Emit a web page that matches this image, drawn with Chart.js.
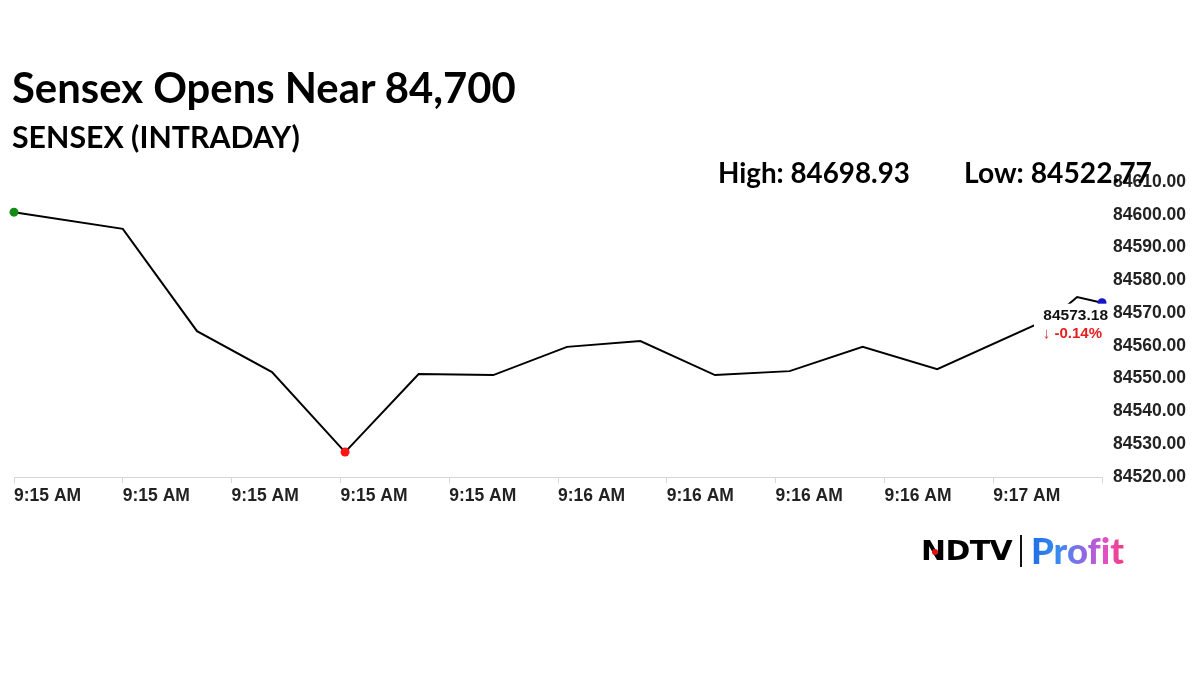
<!DOCTYPE html>
<html><head><meta charset="utf-8">
<script src="https://cdn.jsdelivr.net/npm/chart.js@4.4.1/dist/chart.umd.min.js"></script>
<style>
html,body{margin:0;padding:0;background:#fff;}
#wrap{position:relative;width:1200px;height:675px;overflow:hidden;background:#fff;}
#c{position:absolute;left:0;top:0;}
.t{position:absolute;white-space:nowrap;font-family:Lato,"Open Sans",sans-serif;font-weight:700;color:#000;line-height:1;margin:0;z-index:2;font-variant-ligatures:none;font-feature-settings:"liga" 0;}
.bl{display:inline-block;width:0;height:0;vertical-align:baseline;}
#ndtv{font-family:"DejaVu Sans",sans-serif;font-weight:700;transform-origin:0 0;letter-spacing:-0.5px;}
#profit{font-weight:900;background:linear-gradient(90deg,#1f6fe6 0%,#3b8cf0 30%,#9a63e6 60%,#e64fc0 82%,#ee3b7e 100%);-webkit-background-clip:text;background-clip:text;color:transparent;}
#bar{position:absolute;left:1020px;top:535px;width:2px;height:32px;background:#111;z-index:2;}
#dot{position:absolute;left:932px;top:549px;width:6px;height:6px;border-radius:50%;background:#e01010;z-index:3;}
</style></head><body>
<div id="wrap">
<canvas id="c" width="1200" height="675"></canvas>
<div class="t" id="title" data-x="12" data-b="103" data-w="504">Sensex Opens Near 84,700<span class="bl"></span></div>
<div class="t" id="sub" data-x="12" data-b="148" data-w="288">SENSEX (INTRADAY)<span class="bl"></span></div>
<div class="t" id="high" data-x="718" data-b="183" data-w="192">High: 84698.93<span class="bl"></span></div>
<div class="t" id="low" data-x="964" data-b="183" data-w="188">Low: 84522.77<span class="bl"></span></div>
<div class="t" id="ndtv" data-x="921" data-b="560" data-w="91" data-cap="19">NDTV<span class="bl"></span></div>
<div id="bar"></div>
<div id="dot"></div>
<div class="t" id="profit" data-x="1031" data-b="564" data-w="93">Profit<span class="bl"></span></div>
</div>
<script>
// ---- data ----
const times = [0, 14.0, 23.55, 33.2, 42.6, 52.07, 61.67, 71.16, 80.6, 90.2, 99.8, 109.2, 118.8, 133.9, 136.8, 140];
const values = [84600.8, 84595.7, 84564.5, 84552.0, 84527.6, 84551.4, 84551.1, 84559.7, 84561.5, 84551.1, 84552.3, 84559.7, 84552.9, 84569.1, 84574.9, 84573.18];
const tickLabels = ['9:15 AM','9:15 AM','9:15 AM','9:15 AM','9:15 AM','9:16 AM','9:16 AM','9:16 AM','9:16 AM','9:17 AM',''];
const yMin = 84520, yMax = 84610, yStep = 10;
const xMin = 0, xMax = 140, xStep = 14;
const lastValue = 84573.18;
const changePct = -0.14;

// ---- text placement ----
const wrap = document.getElementById('wrap');
function place(el){
  const x = +el.dataset.x, b = +el.dataset.b, w = +el.dataset.w;
  el.style.left = x + 'px'; el.style.top = '0px'; el.style.fontSize = '40px';
  let r = el.getBoundingClientRect();
  if (el.dataset.cap){
    const fs = (+el.dataset.cap) / 0.729;
    el.style.fontSize = fs + 'px';
    r = el.getBoundingClientRect();
    el.style.transform = 'scaleX(' + (w / r.width) + ')';
  } else {
    el.style.fontSize = (40 * w / r.width) + 'px';
  }
  const bl = el.querySelector('.bl').getBoundingClientRect().top - wrap.getBoundingClientRect().top;
  el.style.top = (b - bl) + 'px';
}
document.querySelectorAll('.t').forEach(place);

// ---- chart ----
const lowIdx = values.indexOf(Math.min(...values));
const lastIdx = values.length - 1;
const dotColor = i => i === 0 ? '#168a16' : (i === lowIdx ? '#ff1414' : (i === lastIdx ? '#1414c8' : 'rgba(0,0,0,0)'));
const tickFont = {family: '"Liberation Sans", Arial, sans-serif', weight: 'bold', size: 17.5};

const endLabel = {
  id: 'endLabel',
  afterDatasetsDraw(chart){
    const p = chart.getDatasetMeta(0).data[lastIdx];
    const ctx = chart.ctx;
    ctx.save();
    ctx.fillStyle = '#fff';
    ctx.fillRect(p.x - 68, p.y + 1, 76, 42);
    ctx.textAlign = 'right'; ctx.textBaseline = 'middle';
    ctx.font = 'bold 15.5px "Liberation Sans", Arial, sans-serif';
    ctx.fillStyle = '#111';
    ctx.fillText(lastValue.toFixed(2), p.x + 6, p.y + 13);
    ctx.font = 'bold 15px "Liberation Sans", Arial, sans-serif';
    ctx.fillStyle = '#e61e1e';
    ctx.fillText('\u2193 ' + changePct.toFixed(2) + '%', p.x, p.y + 31);
    ctx.restore();
  }
};

new Chart(document.getElementById('c'), {
  type: 'line',
  data: {
    datasets: [{
      data: times.map((t, i) => ({x: t, y: values[i]})),
      borderColor: '#000',
      borderWidth: 2,
      tension: 0,
      fill: false,
      clip: false,
      pointRadius: ctx => (ctx.dataIndex === 0 || ctx.dataIndex === lowIdx || ctx.dataIndex === lastIdx) ? 4.5 : 0,
      pointBackgroundColor: ctx => dotColor(ctx.dataIndex),
      pointBorderWidth: 0,
      pointHoverRadius: 0
    }]
  },
  options: {
    responsive: false,
    animation: false,
    devicePixelRatio: 1,
    layout: {padding: {left: 14, top: 182, right: 0, bottom: 158}},
    plugins: {legend: {display: false}, tooltip: {enabled: false}, title: {display: false}},
    scales: {
      x: {
        type: 'linear', min: xMin, max: xMax,
        afterFit: s => { s.height = 40; },
        ticks: {
          stepSize: xStep, autoSkip: false, maxRotation: 0, minRotation: 0,
          align: 'start', padding: 3, color: '#222', font: tickFont,
          callback: (v, i) => tickLabels[i]
        },
        grid: {drawOnChartArea: false, drawTicks: true, tickLength: 6, color: '#d6d6d6'},
        border: {display: true, color: '#d6d6d6', width: 1}
      },
      y: {
        position: 'right', min: yMin, max: yMax,
        afterFit: s => { s.width = 98; },
        ticks: {stepSize: yStep, padding: 11, color: '#222', font: tickFont, callback: v => v.toFixed(2)},
        grid: {display: false, drawTicks: false},
        border: {display: false}
      }
    }
  },
  plugins: [endLabel]
});
</script>
</body></html>
